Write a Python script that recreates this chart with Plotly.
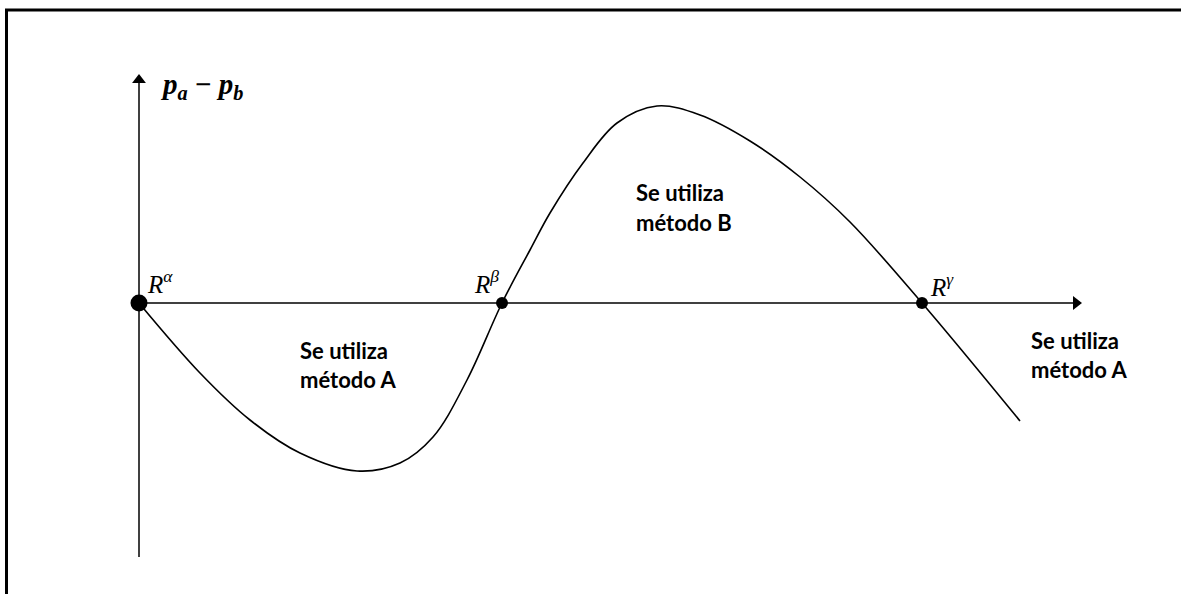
import plotly.graph_objects as go

# ---- data (arbitrary units: R^alpha at 0, horizontal axis = p_a - p_b = 0) ----
curve_x = [0.00, 0.61, 1.11, 1.61, 2.18, 2.61, 2.94, 3.28, 3.63, 3.91, 4.11, 4.44, 4.78, 5.18, 5.61, 6.11, 6.61, 7.11, 7.83, 8.81]
curve_y = [0.00, -0.70, -1.17, -1.50, -1.68, -1.60, -1.34, -0.77, 0.00, 0.53, 0.90, 1.40, 1.80, 1.97, 1.88, 1.62, 1.26, 0.81, 0.00, -1.18]

root_names = ["α", "β", "γ"]
root_x = [0.00, 3.63, 7.83]
root_sizes = [17, 12, 12]

axis_x_end = 9.43
axis_y_top = 2.29
axis_y_bottom = -2.54

region_lines = [["Se utiliza", "método A"], ["Se utiliza", "método B"], ["Se utiliza", "método A"]]

W, H = 1181, 594
X0_PX, Y0_PX, SCALE = 139, 303, 100.0


def dx(px):
    return (px - X0_PX) / SCALE


def dy(py):
    return (Y0_PX - py) / SCALE


fig = go.Figure()

# axes lines
fig.add_trace(go.Scatter(x=[0, axis_x_end - 0.06], y=[0, 0], mode="lines",
                         line=dict(color="black", width=1.5), hoverinfo="skip", showlegend=False))
fig.add_trace(go.Scatter(x=[0, 0], y=[axis_y_bottom, axis_y_top - 0.06], mode="lines",
                         line=dict(color="black", width=1.5), hoverinfo="skip", showlegend=False))

# arrow heads
AH = 12  # marker size in px
fig.add_trace(go.Scatter(x=[axis_x_end - (AH / 2) / SCALE], y=[0], mode="markers",
                         marker=dict(symbol="triangle-right", size=AH, color="black", opacity=1,
                                     line=dict(width=0)),
                         hoverinfo="skip", showlegend=False))
fig.add_trace(go.Scatter(x=[0], y=[axis_y_top - (AH / 2) / SCALE], mode="markers",
                         marker=dict(symbol="triangle-up", size=AH, color="black", opacity=1,
                                     line=dict(width=0)),
                         hoverinfo="skip", showlegend=False))

fig.add_trace(go.Scatter(
    x=curve_x, y=curve_y, mode="lines",
    line=dict(color="black", width=1.6, shape="spline", smoothing=1.0),
    hoverinfo="skip", showlegend=False))

fig.add_trace(go.Scatter(
    x=root_x, y=[0] * len(root_x), mode="markers",
    marker=dict(color="black", size=root_sizes, opacity=1, line=dict(width=0)),
    hoverinfo="skip", showlegend=False))

annotations = []
# y-axis label
annotations.append(dict(x=dx(158), y=dy(86), xref="x", yref="y", xanchor="left", yanchor="middle",
                        showarrow=False,
                        text="<b><i>p</i><sub><i>a</i></sub> − <i>p</i><sub><i>b</i></sub></b>",
                        font=dict(family="Liberation Serif", size=29, color="black")))

# root labels
root_label_px = [(145, 282), (472, 282), (928, 285)]
for name, (lx, ly) in zip(root_names, root_label_px):
    annotations.append(dict(x=dx(lx), y=dy(ly), xref="x", yref="y", xanchor="left", yanchor="middle",
                            showarrow=False, text=f"<i>R</i><sup><i>{name}</i></sup>",
                            font=dict(family="Liberation Serif", size=25, color="black")))

# region labels (left aligned, two lines each)
region_px = [(298, 350, 379), (634, 192, 222), (1029, 340, 369)]
for lines, (lx, y1, y2) in zip(region_lines, region_px):
    for txt, ly in zip(lines, (y1, y2)):
        annotations.append(dict(x=dx(lx), y=dy(ly), xref="x", yref="y", xanchor="left", yanchor="middle",
                                showarrow=False, text=f"<b>{txt}</b>",
                                font=dict(family="Lato", size=22, color="black")))

shapes = [
    dict(type="line", xref="paper", yref="paper", x0=5 / W, x1=1.0, y0=1 - 10 / H, y1=1 - 10 / H,
         line=dict(color="black", width=3)),
    dict(type="line", xref="paper", yref="paper", x0=6.5 / W, x1=6.5 / W, y0=1 - 9 / H, y1=0,
         line=dict(color="black", width=3)),
]

fig.update_layout(
    width=W, height=H,
    margin=dict(l=0, r=0, t=0, b=0),
    paper_bgcolor="white", plot_bgcolor="white",
    xaxis=dict(range=[dx(0), dx(W)], visible=False, fixedrange=True),
    yaxis=dict(range=[dy(H), dy(0)], visible=False, fixedrange=True),
    annotations=annotations, shapes=shapes, showlegend=False,
)

fig.write_html("out.html", config={"displayModeBar": False},
               post_script="document.body.style.margin='0px';document.body.style.overflow='hidden';")
